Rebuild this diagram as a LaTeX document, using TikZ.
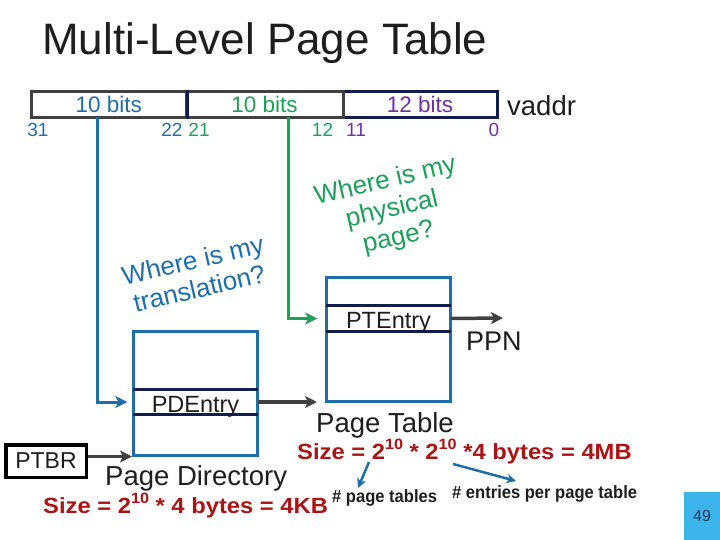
\documentclass[tikz,border=0pt]{standalone}
\usepackage{fontspec}
\setmainfont{Liberation Sans}
\usetikzlibrary{arrows.meta,calc}
\newcommand\fsz[1]{\fontsize{#1}{#1}\selectfont}
\newcommand\mysup[1]{\raisebox{0.42em}{\fontsize{15}{15}\selectfont #1}}
\definecolor{cblue}{RGB}{30,110,170}
\definecolor{cgreen}{RGB}{30,160,90}
\definecolor{cpurple}{RGB}{112,48,160}
\definecolor{cnavy}{RGB}{15,30,75}
\definecolor{cgray}{RGB}{64,64,64}
\definecolor{cred}{RGB}{170,20,20}
\definecolor{cpage}{RGB}{60,180,235}
\definecolor{ctext}{RGB}{30,30,30}
\begin{document}
\begin{tikzpicture}[x=1pt,y=-1pt,
  txt/.style={inner sep=0,text=ctext},
  field/.style={draw=cgray,line width=3pt,inner sep=0,minimum height=26pt,font=\fsz{22.5}},
  bitno/.style={inner sep=0,anchor=base,font=\fsz{19}},
  tablebox/.style={draw=cblue,line width=3pt,inner sep=0,minimum width=124pt,minimum height=124pt},
  rowbox/.style={inner sep=0,minimum width=124pt},
  rowline/.style={draw=cnavy,line width=3pt},
  bigarr/.style={line width=3.5pt,-{Stealth[length=12pt,width=12pt,inset=3pt]}},
  smallarr/.style={cblue,line width=2.5pt,-{Stealth[length=9pt,width=9pt,inset=2pt]}},
  sizetxt/.style={inner sep=0,anchor=base west,text=cred,font=\fsz{22}\bfseries},
  notetxt/.style={inner sep=0,anchor=base west,text=ctext,font=\fsz{17.8}\bfseries},
  question/.style={inner sep=0,align=center,rotate=13,font=\fontsize{26}{29}\selectfont}
]
\useasboundingbox (0,0) rectangle (720,540);

% title
\node[txt,anchor=base west,font=\fsz{44}] (title) at (42,55) {Multi-Level Page Table};

% virtual address fields
\node[field,draw=cnavy,minimum width=154pt,text=cpurple] (f3) at (420,104.5) {12 bits};
\node[field,minimum width=154.5pt,text=cblue] (f1) at (108.75,104.5) {10 bits};
\node[field,minimum width=157pt,text=cgreen] (f2) at (264.5,104.5) {10 bits};
\draw[cnavy,line width=3pt] (f1.north east) -- (f1.south east);
\node[txt,anchor=base west,font=\fsz{27.5}] (vaddr) at (507,116) {vaddr};

% bit numbers
\node[bitno,text=cblue] (b31) at (38,137) {31};
\node[bitno,text=cblue] (b22) at (172,137) {22};
\node[bitno,text=cgreen] (b21) at (199,137) {21};
\node[bitno,text=cgreen] (b12) at (322.5,137) {12};
\node[bitno,text=cpurple] (b11) at (356,137) {11};
\node[bitno,text=cpurple] (b0) at (494,137) {0};

% questions
\node[question,text=cblue] (q1) at (196,274) {Where is my\\translation?};
\node[question,text=cgreen] (q2) at (392,210) {Where is my\\physical\\page?};

% page directory
\node[tablebox] (pd) at (195.5,393) {};
\node[rowbox,minimum height=24pt] (pde) at (195.5,402) {};
\draw[rowline] (pde.north west) -- (pde.north east);
\draw[rowline] (pde.south west) -- (pde.south east);
\node[txt,anchor=base,font=\fsz{23.5}] (pdet) at (195.5,412) {PDEntry};
\node[txt,anchor=base west,font=\fsz{27.5}] (pdname) at (105,485) {Page Directory};

% page table
\node[tablebox] (pt) at (388.5,339.5) {};
\node[rowbox,minimum height=25pt] (pte) at (388.5,318.5) {};
\draw[rowline] (pte.north west) -- (pte.north east);
\draw[rowline] (pte.south west) -- (pte.south east);
\node[txt,anchor=base,font=\fsz{23.5}] (ptet) at (388.5,328) {PTEntry};
\node[txt,anchor=base west,font=\fsz{27.5}] (ptname) at (316,432) {Page Table};

% PTBR
\node[draw=black,line width=3.5pt,inner sep=0,minimum width=80.5pt,minimum height=32.5pt,font=\fsz{23},text=ctext] (ptbr) at (46,461) {PTBR};

% PPN
\coordinate (ppnend) at (503,318);
\node[txt,anchor=base west,font=\fsz{27}] (ppn) at (466,350) {PPN};

% connectors
\coordinate (t1) at (97,117.5);
\coordinate (t2) at (288,117.5);
\draw[bigarr,cblue,line width=3pt,shorten >=6pt] (t1) |- (pde.west);
\draw[bigarr,cgreen,line width=3pt,shorten >=9pt] (t2) |- (pte.west);
\draw[bigarr,cgray] (pde.east) -- (pde.east -| pt.west) [shorten >=8pt];
\draw[bigarr,cgray] (pte.east) -- (ppnend);
\draw[bigarr,cgray] (ptbr.east |- pd.south) -- (pd.south west);

% sizes
\node[sizetxt] (size1) at (43,513) {\scalebox{1.08}[1]{Size = 2\mysup{10} * 4 bytes = 4KB}};
\node[sizetxt] (size2) at (297,459) {\scalebox{1.08}[1]{Size = 2\mysup{10} * 2\mysup{10} *4 bytes = 4MB}};
\node[notetxt] (n1) at (332,502) {\scalebox{0.93}[1]{\# page tables}};
\node[notetxt] (n2) at (452,498) {\scalebox{0.93}[1]{\# entries per page table}};
\coordinate (a1s) at (369,462);
\coordinate (a1e) at (358,488);
\coordinate (a2s) at (453,464);
\coordinate (a2e) at (516,481);
\draw[smallarr] (a1s) -- (a1e);
\draw[smallarr] (a2s) -- (a2e);

% page number
\node[fill=cpage,inner sep=0,minimum width=36pt,minimum height=48pt] (pg) at (702,516) {};
\node[inner sep=0,font=\fsz{16},text={rgb,255:red,40;green,60;blue,85}] (pgno) at (pg.center) {49};
\end{tikzpicture}
\end{document}
